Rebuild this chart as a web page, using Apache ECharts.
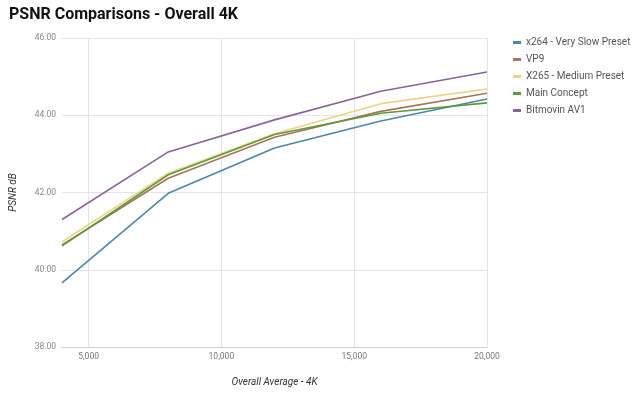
<!DOCTYPE html>
<html>
<head>
<meta charset="utf-8">
<script src="https://cdn.jsdelivr.net/npm/echarts@6/dist/echarts.min.js"></script>
<style>
 html, body { margin: 0; padding: 0; background: #fff; }
 #main { width: 640px; height: 399px; }
</style>
</head>
<body>
<div id="main"></div>
<script>
/** data **/
var bitrates = [4000, 8000, 12000, 16000, 20000];
var x264 = [39.66, 41.98, 43.15, 43.85, 44.42];
var vp9 = [40.64, 42.37, 43.43, 44.10, 44.57];
var x265 = [40.72, 42.50, 43.52, 44.30, 44.68];
var mainConcept = [40.62, 42.46, 43.50, 44.05, 44.32];
var av1 = [41.30, 43.05, 43.88, 44.62, 45.12];
var yTicks = [38, 40, 42, 44, 46];

var names = ['x264 - Very Slow Preset', 'VP9', 'X265 - Medium Preset', 'Main Concept', 'Bitmovin AV1'];
var colors = ['#4f86a6', '#a8745a', '#ecd286', '#5c9a3c', '#8a639c'];
var values = [x264, vp9, x265, mainConcept, av1];

function pairs(arr) {
 return arr.map(function(v, i) { return [bitrates[i], v]; });
}

var chart = echarts.init(document.getElementById('main'));
var series = [];
values.forEach(function(item, index) {
 series.push({
  name: names[index],
  type: 'line',
  data: pairs(item),
  showSymbol: false,
  lineStyle: { width: 1.6, color: colors[index] },
  itemStyle: { color: colors[index] }
 });
});

var option = {
 animation: false,
 title: {
  text: 'PSNR Comparisons - Overall 4K',
  left: 4,
  top: 2,
  textStyle: { fontSize: 16, fontWeight: 'bold', color: '#111', fontFamily: 'Roboto' }
 },
 legend: {
  data: names,
  orient: 'vertical',
  left: 508,
  top: 32,
  itemWidth: 8,
  itemHeight: 3,
  itemGap: 6,
  icon: 'rect',
  textStyle: { fontSize: 10, lineHeight: 11, color: '#555', fontFamily: 'Roboto' }
 },
 grid: { left: 58, right: 153, top: 38, bottom: 52 },
 xAxis: {
  type: 'value',
  min: 4000,
  max: 20000,
  interval: 1000,
  name: 'Overall Average - 4K',
  nameLocation: 'middle',
  nameGap: 30,
  nameTextStyle: { fontStyle: 'italic', fontSize: 10, color: '#333', fontFamily: 'Roboto' },
  axisLine: { show: true, lineStyle: { color: '#cfcfcf' } },
  axisTick: { show: false },
  axisLabel: {
   fontSize: 8.5, color: '#777', fontFamily: 'Roboto', margin: 5,
   formatter: function(v) { return v % 5000 === 0 ? echarts.format.addCommas(v) : ''; }
  },
  splitLine: {
   show: true,
   lineStyle: { color: ['rgba(0,0,0,0)', '#e4e4e4', 'rgba(0,0,0,0)', 'rgba(0,0,0,0)', 'rgba(0,0,0,0)'] }
  }
 },
 yAxis: {
  type: 'value',
  min: yTicks[0],
  max: yTicks[yTicks.length - 1],
  interval: 2,
  name: 'PSNR dB',
  nameLocation: 'middle',
  nameGap: 44,
  nameTextStyle: { fontStyle: 'italic', fontSize: 10, color: '#333', fontFamily: 'Roboto' },
  axisLine: { show: false },
  axisTick: { show: false },
  axisLabel: {
   fontSize: 8.5, color: '#888', fontFamily: 'Roboto', margin: 6,
   formatter: function(v) { return v.toFixed(2); }
  },
  splitLine: { lineStyle: { color: '#e4e4e4' } }
 },
 series: series
};
chart.setOption(option);
</script>
</body>
</html>
